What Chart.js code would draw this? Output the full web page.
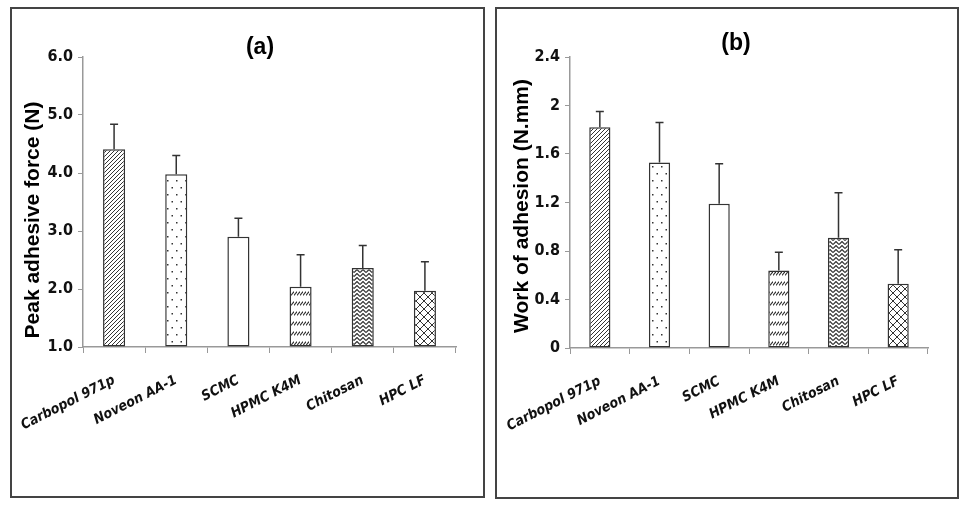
<!DOCTYPE html>
<html>
<head>
<meta charset="utf-8">
<script src="https://cdn.jsdelivr.net/npm/chart.js@4.4.1/dist/chart.umd.min.js"></script>
<style>
  body { margin: 0; background: #fff; }
  .panel { position: absolute; box-sizing: border-box; border: 2px solid #444; background: #fff; }
  .panel canvas { display: block; }
</style>
</head>
<body>
<div class="panel" style="left:10px;top:7px;width:475px;height:491px"><canvas id="chartA" width="471" height="487"></canvas></div>
<div class="panel" style="left:495px;top:7px;width:464px;height:492px"><canvas id="chartB" width="460" height="488"></canvas></div>
<script>
// data
const categories = ['Carbopol 971p', 'Noveon AA-1', 'SCMC', 'HPMC K4M', 'Chitosan', 'HPC LF'];
const forceMean = [4.41, 3.98, 2.90, 2.04, 2.36, 1.97];
const forceErr = [0.43, 0.32, 0.32, 0.55, 0.39, 0.50];
const workMean = [1.82, 1.53, 1.19, 0.64, 0.91, 0.53];
const workErr = [0.13, 0.33, 0.33, 0.15, 0.37, 0.28];
const forceTicks = ['1.0', '2.0', '3.0', '4.0', '5.0', '6.0'];
const workTicks = ['0', '0.4', '0.8', '1.2', '1.6', '2', '2.4'];

const NARROW = "'Liberation Sans Narrow', 'Arial Narrow', 'DejaVu Sans Condensed', sans-serif";
const SANS = "'Liberation Sans', Arial, sans-serif";
const INK = '#333';

// fill patterns, one per category
function makePattern(w, h, draw) {
  const c = document.createElement('canvas');
  c.width = w; c.height = h;
  const g = c.getContext('2d');
  g.fillStyle = '#fff';
  g.fillRect(0, 0, w, h);
  g.strokeStyle = INK;
  g.fillStyle = INK;
  g.lineWidth = 1;
  draw(g);
  return g.createPattern(c, 'repeat');
}

function patterns() {
  return [
    makePattern(4, 4, g => {
      g.beginPath();
      g.moveTo(-1, 5); g.lineTo(5, -1);
      g.moveTo(-1, 1); g.lineTo(1, -1);
      g.moveTo(3, 5); g.lineTo(5, 3);
      g.stroke();
    }),
    makePattern(9, 14, g => {
      g.fillRect(2, 3, 1.5, 1.5);
      g.fillRect(6.5, 10, 1.5, 1.5);
    }),
    '#fff',
    makePattern(3, 10, g => {
      g.lineWidth = 1.1;
      g.beginPath();
      g.moveTo(0, 6.5); g.lineTo(3, 2.5);
      g.stroke();
    }),
    makePattern(6, 4, g => {
      g.lineWidth = 1.2;
      g.beginPath();
      g.moveTo(0, 3.5); g.lineTo(3, 0.5); g.lineTo(6, 3.5);
      g.stroke();
    }),
    makePattern(8, 8, g => {
      g.beginPath();
      g.moveTo(0, 0); g.lineTo(8, 8);
      g.moveTo(0, 8); g.lineTo(8, 0);
      g.stroke();
    })
  ];
}

// error bars (upper half only) and the panel texts
const extras = {
  id: 'extras',
  afterDatasetsDraw(chart, args, opts) {
    const ctx = chart.ctx;
    const y = chart.scales.y;
    const meta = chart.getDatasetMeta(0);
    ctx.save();
    ctx.strokeStyle = INK;
    ctx.lineWidth = 1.5;
    meta.data.forEach((bar, i) => {
      const top = y.getPixelForValue(opts.mean[i] + opts.err[i]);
      ctx.beginPath();
      ctx.moveTo(bar.x, bar.y);
      ctx.lineTo(bar.x, top);
      ctx.moveTo(bar.x - 4, top);
      ctx.lineTo(bar.x + 4, top);
      ctx.stroke();
    });
    ctx.fillStyle = '#000';
    ctx.textAlign = 'center';
    ctx.textBaseline = 'middle';
    ctx.font = 'bold 23px ' + SANS;
    ctx.fillText(opts.title, opts.titleX, opts.titleY);
    ctx.translate(opts.axisX, opts.axisY);
    ctx.rotate(-Math.PI / 2);
    ctx.font = 'bold 21px ' + SANS;
    ctx.fillText(opts.axisTitle, 0, 0);
    ctx.restore();
  }
};

function makeChart(id, mean, err, tickLabels, base, pad, yWidth, text) {
  return new Chart(document.getElementById(id), {
    type: 'bar',
    data: {
      labels: categories,
      datasets: [{
        data: mean,
        base: base,
        backgroundColor: patterns(),
        borderColor: INK,
        borderWidth: 1.5,
        borderSkipped: false,
        categoryPercentage: 1,
        barPercentage: 0.355
      }]
    },
    options: {
      responsive: false,
      animation: false,
      layout: { padding: { top: pad.top, right: pad.right, left: 0, bottom: 0 } },
      plugins: {
        legend: { display: false },
        tooltip: { enabled: false },
        extras: Object.assign({ mean: mean, err: err }, text)
      },
      scales: {
        x: {
          grid: { offset: true, drawOnChartArea: false, color: '#999', tickLength: 6 },
          border: { color: '#999', width: 1.5 },
          ticks: {
            color: '#111',
            font: { family: NARROW, size: 14, weight: 'bold', style: 'italic' },
            minRotation: 27, maxRotation: 27,
            padding: 19
          },
          afterFit: s => { s.height = pad.bottom; s.paddingLeft = 0; s.paddingRight = 0; }
        },
        y: {
          min: parseFloat(tickLabels[0]),
          max: parseFloat(tickLabels[tickLabels.length - 1]),
          afterBuildTicks: s => { s.ticks = tickLabels.map(v => ({ value: parseFloat(v) })); },
          grid: { drawOnChartArea: false, color: '#999', tickLength: 5 },
          border: { color: '#999', width: 1.5 },
          ticks: {
            color: '#111',
            font: { family: NARROW, size: 16, weight: 'bold' },
            padding: 5,
            callback: (v, i) => tickLabels[i]
          },
          afterFit: s => { s.width = yWidth; }
        }
      }
    },
    plugins: [extras]
  });
}

makeChart('chartA', forceMean, forceErr, forceTicks, 1,
  { top: 48, right: 27, bottom: 149 }, 71,
  { title: '(a)', titleX: 248, titleY: 39, axisTitle: 'Peak adhesive force (N)', axisX: 21, axisY: 211 });

makeChart('chartB', workMean, workErr, workTicks, 0,
  { top: 48, right: 29, bottom: 149 }, 73,
  { title: '(b)', titleX: 239, titleY: 35, axisTitle: 'Work of adhesion (N.mm)', axisX: 25, axisY: 197 });
</script>
</body>
</html>
